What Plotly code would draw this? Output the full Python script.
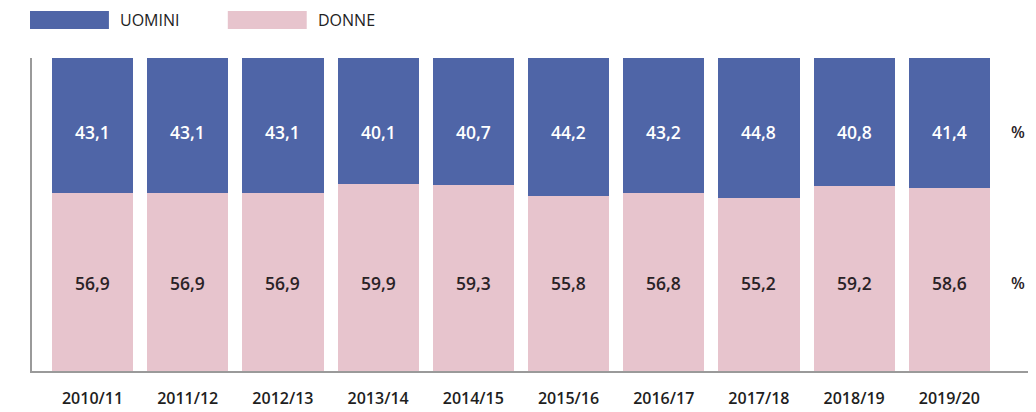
import plotly.graph_objects as go

years = ["2010/11", "2011/12", "2012/13", "2013/14", "2014/15",
         "2015/16", "2016/17", "2017/18", "2018/19", "2019/20"]
uomini = [43.1, 43.1, 43.1, 40.1, 40.7, 44.2, 43.2, 44.8, 40.8, 41.4]
donne = [56.9, 56.9, 56.9, 59.9, 59.3, 55.8, 56.8, 55.2, 59.2, 58.6]

BLUE = "#4f65a7"
PINK = "#e7c4cd"
FONT = "Open Sans"

def fmt(v):
    return f"{v:.1f}".replace(".", ",")

xs = list(range(len(years)))

fig = go.Figure()
fig.add_trace(go.Bar(x=xs, y=donne, marker=dict(color=PINK, line=dict(width=0)),
                     name="DONNE", hoverinfo="skip"))
fig.add_trace(go.Bar(x=xs, y=uomini, marker=dict(color=BLUE, line=dict(width=0)),
                     name="UOMINI", hoverinfo="skip"))

ann = []
for i, (u, d) in enumerate(zip(uomini, donne)):
    ann.append(dict(x=i, y=76.5, text=fmt(u), showarrow=False, xref="x", yref="y",
                    font=dict(family=FONT, size=17.5, color="white", weight=600)))
    ann.append(dict(x=i, y=28.2, text=fmt(d), showarrow=False, xref="x", yref="y",
                    font=dict(family=FONT, size=17.5, color="#2a2226", weight=600)))
for yv in (76.5, 28.2):
    ann.append(dict(x=9.72, y=yv, text="%", showarrow=False, xref="x", yref="y",
                    font=dict(family=FONT, size=16, color="#2a2226", weight=600)))

# legend
shapes = [
    dict(type="rect", xref="paper", yref="paper", x0=-0.002, x1=0.077, y0=1.0927, y1=1.150,
         fillcolor=BLUE, line=dict(width=0), layer="above"),
    dict(type="rect", xref="paper", yref="paper", x0=0.196, x1=0.275, y0=1.0927, y1=1.150,
         fillcolor=PINK, line=dict(width=0), layer="above"),
]
ann.append(dict(x=0.086, y=1.121, xref="paper", yref="paper", text="UOMINI", showarrow=False,
                xanchor="left", yanchor="middle", font=dict(family=FONT, size=16, color="#222")))
ann.append(dict(x=0.284, y=1.121, xref="paper", yref="paper", text="DONNE", showarrow=False,
                xanchor="left", yanchor="middle", font=dict(family=FONT, size=16, color="#222")))

fig.update_layout(
    width=1028, height=404,
    margin=dict(l=24, r=5, t=50, b=41, autoexpand=False),
    barmode="stack", bargap=0.147,
    plot_bgcolor="white", paper_bgcolor="white",
    showlegend=False,
    annotations=ann, shapes=shapes,
    xaxis=dict(tickmode="array", tickvals=xs, ticktext=years, range=[-0.6355, 9.858],
               showgrid=False, zeroline=False, showline=True, linecolor="#9a9a9a",
               linewidth=1.5, ticks="", ticklen=0, automargin=False, ticklabelstandoff=12,
               tickfont=dict(family=FONT, size=16, color="#1e1e1e", weight=600)),
    yaxis=dict(range=[0, 100], showgrid=False, zeroline=False, showline=True,
               linecolor="#9a9a9a", linewidth=1.5, showticklabels=False, ticks="",
               automargin=False),
)

fig.write_html("out.html")
